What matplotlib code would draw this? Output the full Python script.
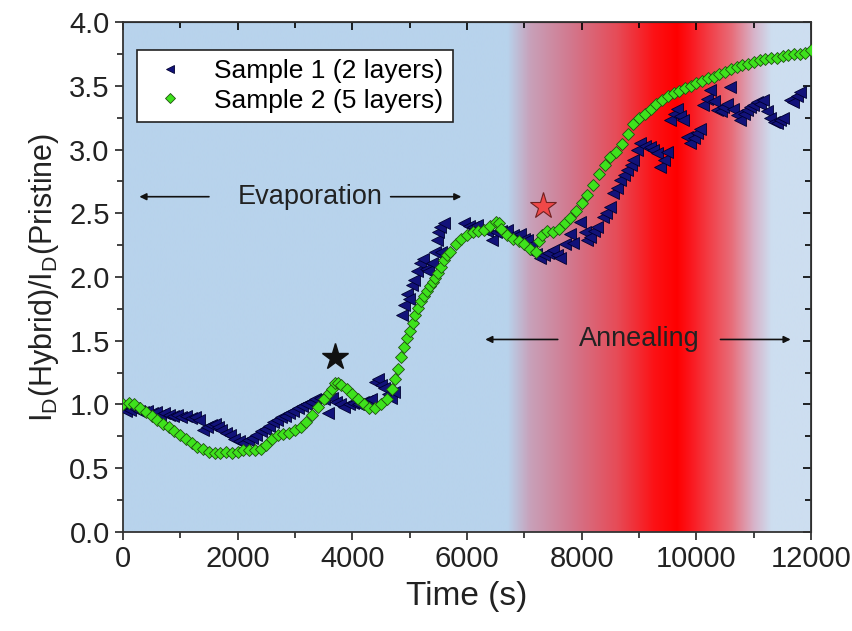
import numpy as np
import matplotlib
matplotlib.use("Agg")
from matplotlib import pyplot as plt
from matplotlib.ticker import MultipleLocator, FormatStrFormatter

plt.rcParams['font.family'] = ['Liberation Sans', 'DejaVu Sans']
plt.rcParams['mathtext.fontset'] = 'custom'
plt.rcParams['mathtext.rm'] = 'Liberation Sans'

# Sample 1 (2 layers)
t1 = [0, 60, 120, 200, 280, 350, 430, 500, 570, 650, 720, 800, 870, 950, 1020,
      1100, 1180, 1250, 1320, 1400, 1470, 1540, 1600, 1660, 1720, 1800, 1870,
      1940, 2020, 2100, 2180, 2260, 2330, 2400, 2470, 2540, 2610, 2680, 2750,
      2820, 2900, 2970, 3050, 3120, 3200, 3280, 3350, 3430, 3500, 3580, 3650,
      3720, 3790, 3860, 3940, 4020, 4100, 4180, 4250, 4330, 4400, 4450, 4500,
      4560, 4620, 4680, 4730, 4870, 4900, 4950, 4990, 5040, 5080, 5120, 5180,
      5230, 5280, 5320, 5390, 5450, 5480, 5500, 5530, 5540, 5600, 5950, 6030,
      6100, 6180, 6280, 6350, 6430, 6500, 6600, 6700, 6800, 6920, 7000, 7050,
      7120, 7200, 7270, 7340, 7420, 7500, 7560, 7620, 7700, 7800, 7850, 7970,
      8050, 8090, 8150, 8220, 8270, 8370, 8430, 8490, 8550, 8610, 8670, 8730,
      8790, 8850, 8900, 8960, 9020, 9100, 9190, 9250, 9310, 9370, 9430, 9490,
      9540, 9600, 9660, 9720, 9770, 9830, 9890, 9950, 10010, 10060, 10120,
      10180, 10240, 10300, 10360, 10420, 10470, 10530, 10590, 10640, 10700,
      10760, 10820, 10880, 10940, 10990, 11050, 11100, 11160, 11230, 11290,
      11350, 11410, 11460, 11510, 11630, 11690, 11750, 11800]
y1 = [0.97, 0.95, 0.96, 0.97, 0.95, 0.94, 0.95, 0.93, 0.94, 0.92, 0.93, 0.92,
      0.91, 0.92, 0.90, 0.91, 0.89, 0.90, 0.88, 0.80, 0.82, 0.84, 0.85, 0.82,
      0.80, 0.78, 0.76, 0.73, 0.71, 0.70, 0.72, 0.74, 0.76, 0.79, 0.81, 0.83,
      0.86, 0.88, 0.90, 0.91, 0.93, 0.95, 0.97, 0.99, 1.00, 1.02, 1.04, 1.05,
      1.04, 0.93, 1.05, 1.02, 1.00, 0.98, 1.00, 1.01, 1.00, 1.02, 1.03, 1.04,
      1.18, 1.20, 1.15, 1.13, 1.08, 1.05, 1.10, 1.70, 1.78, 1.87, 1.83, 1.94,
      1.98, 2.05, 2.11, 2.14, 2.06, 2.05, 2.11, 2.20, 2.29, 2.35, 2.39, 2.20,
      2.42, 2.42, 2.40, 2.39, 2.41, 2.38, 2.36, 2.29, 2.35, 2.36, 2.37, 2.33,
      2.34, 2.30, 2.29, 2.25, 2.18, 2.15, 2.17, 2.19, 2.21, 2.17, 2.15, 2.26,
      2.34, 2.27, 2.43, 2.35, 2.29, 2.31, 2.36, 2.39, 2.47, 2.50, 2.55, 2.66,
      2.70, 2.76, 2.80, 2.84, 2.88, 2.92, 3.00, 3.05, 3.03, 3.02, 3.00, 2.97,
      2.86, 2.92, 2.98, 3.23, 3.28, 3.32, 3.26, 3.23, 3.10, 3.05, 3.09, 3.13,
      3.16, 3.35, 3.40, 3.47, 3.38, 3.31, 3.30, 3.33, 3.36, 3.49, 3.32, 3.27,
      3.23, 3.28, 3.31, 3.33, 3.35, 3.37, 3.36, 3.39, 3.30, 3.25, 3.22, 3.21,
      3.23, 3.25, 3.39, 3.37, 3.42, 3.45]

# Sample 2 (5 layers)
t2 = [0, 100, 200, 300, 400, 500, 600, 700, 800, 900, 1000, 1100, 1200, 1300,
      1400, 1500, 1600, 1700, 1800, 1900, 2000, 2100, 2200, 2300, 2400, 2500,
      2600, 2700, 2800, 2900, 3000, 3100, 3200, 3300, 3400, 3500, 3600, 3650,
      3700, 3750, 3800, 3900, 4000, 4100, 4200, 4300, 4400, 4500, 4600, 4700,
      4750, 4800, 4850, 4900, 4950, 5000, 5050, 5100, 5150, 5200, 5250, 5300,
      5350, 5400, 5450, 5500, 5550, 5600, 5650, 5700, 5800, 5900, 6000, 6100,
      6200, 6300, 6400, 6500, 6550, 6600, 6700, 6800, 6900, 7000, 7100, 7200,
      7250, 7300, 7400, 7500, 7600, 7700, 7800, 7900, 8000, 8100, 8200, 8300,
      8400, 8500, 8600, 8700, 8800, 8900, 9000, 9100, 9200, 9300, 9400, 9500,
      9600, 9700, 9800, 9900, 10000, 10100, 10200, 10300, 10400, 10500, 10600,
      10700, 10800, 10900, 11000, 11100, 11200, 11300, 11400, 11500, 11600,
      11700, 11800, 11900, 12000]
y2 = [1.00, 1.01, 1.00, 0.97, 0.94, 0.91, 0.88, 0.85, 0.82, 0.79, 0.76, 0.73,
      0.70, 0.67, 0.65, 0.63, 0.62, 0.62, 0.63, 0.62, 0.63, 0.64, 0.64, 0.64,
      0.65, 0.68, 0.73, 0.76, 0.77, 0.78, 0.80, 0.82, 0.86, 0.92, 0.98, 1.04,
      1.09, 1.12, 1.17, 1.17, 1.15, 1.12, 1.08, 1.04, 1.00, 0.97, 0.97, 1.00,
      1.04, 1.12, 1.20, 1.28, 1.37, 1.45, 1.52, 1.58, 1.64, 1.70, 1.76, 1.81,
      1.85, 1.89, 1.93, 1.96, 1.99, 2.03, 2.08, 2.13, 2.17, 2.20, 2.26, 2.30,
      2.33, 2.35, 2.36, 2.37, 2.40, 2.43, 2.42, 2.38, 2.33, 2.30, 2.28, 2.26,
      2.22, 2.20, 2.28, 2.33, 2.36, 2.35, 2.38, 2.42, 2.46, 2.52, 2.58, 2.64,
      2.72, 2.81, 2.88, 2.94, 2.98, 3.04, 3.12, 3.20, 3.25, 3.28, 3.32, 3.36,
      3.39, 3.42, 3.44, 3.46, 3.48, 3.50, 3.52, 3.54, 3.56, 3.57, 3.59, 3.61,
      3.63, 3.65, 3.66, 3.67, 3.69, 3.70, 3.71, 3.72, 3.72, 3.73, 3.74, 3.75,
      3.75, 3.76, 3.78]

# background colour stops (time, r, g, b)
bg_t = [0, 6700, 7100, 7800, 8600, 9250, 9650, 9850, 10600, 11000, 11300, 12000]
bg_r = [184, 184, 200, 210, 230, 252, 255, 252, 232, 215, 205, 205]
bg_g = [211, 211, 160, 120, 76, 18, 0, 18, 108, 180, 222, 222]
bg_b = [236, 236, 185, 142, 88, 22, 0, 24, 120, 202, 240, 240]

fig = plt.figure(figsize=(8.53, 6.31), dpi=100)
ax = fig.add_axes([0.144, 0.157, 0.807, 0.808])

xs = np.linspace(0, 12000, 1200)
grad = np.stack([np.interp(xs, bg_t, bg_r), np.interp(xs, bg_t, bg_g),
                 np.interp(xs, bg_t, bg_b)], axis=-1)[None, :, :] / 255.0
ax.imshow(grad, extent=[0, 12000, 0, 4], aspect='auto', zorder=0,
          interpolation='bilinear')

ax.plot(t1, y1, ls='none', marker='<', ms=8.5, mfc='#12127a', mec='#000030',
        mew=0.6, label='Sample 1 (2 layers)', zorder=3)
ax.plot(t2, y2, ls='none', marker='D', ms=6.5, mfc='#3ee21c', mec='#1f5010',
        mew=0.6, label='Sample 2 (5 layers)', zorder=4)

ax.plot([3700], [1.37], marker='*', ms=20, color='#111111', zorder=5)
ax.plot([7330], [2.56], marker='*', ms=20, mfc='#f04848', mec='#702020',
        mew=0.8, zorder=5)

akw = dict(arrowstyle='-|>', color='#111111', lw=1.2, mutation_scale=10)
ax.annotate('', xy=(240, 2.63), xytext=(1550, 2.63), arrowprops=akw)
ax.annotate('', xy=(5950, 2.63), xytext=(4620, 2.63), arrowprops=akw)
ax.text(3260, 2.63, 'Evaporation', fontsize=19.5, ha='center', va='center',
        color='#222222')
ax.annotate('', xy=(6270, 1.51), xytext=(7630, 1.51), arrowprops=akw)
ax.annotate('', xy=(11690, 1.51), xytext=(10370, 1.51), arrowprops=akw)
ax.text(9000, 1.51, 'Annealing', fontsize=19.5, ha='center', va='center',
        color='#222222')

ax.set_xlim(0, 12000)
ax.set_ylim(0, 4.0)
ax.xaxis.set_major_locator(MultipleLocator(2000))
ax.xaxis.set_minor_locator(MultipleLocator(1000))
ax.yaxis.set_major_locator(MultipleLocator(0.5))
ax.yaxis.set_minor_locator(MultipleLocator(0.25))
ax.yaxis.set_major_formatter(FormatStrFormatter('%.1f'))
ax.tick_params(which='both', direction='out', labelsize=21, width=1.2,
               colors='#222222')
ax.tick_params(which='major', length=6)
ax.tick_params(which='minor', length=4)
for sp in ax.spines.values():
    sp.set_linewidth(1.3)
    sp.set_color('#333333')

# mirrored inward ticks on top and right
top = ax.secondary_xaxis('top')
top.xaxis.set_major_locator(MultipleLocator(2000))
top.xaxis.set_minor_locator(MultipleLocator(1000))
top.tick_params(which='both', direction='in', labeltop=False, width=1.2)
top.tick_params(which='major', length=6)
top.tick_params(which='minor', length=4)
right = ax.secondary_yaxis('right')
right.yaxis.set_major_locator(MultipleLocator(0.5))
right.yaxis.set_minor_locator(MultipleLocator(0.25))
right.tick_params(which='both', direction='in', labelright=False, width=1.2)
right.tick_params(which='major', length=6)
right.tick_params(which='minor', length=4)

ax.set_xlabel('Time (s)', fontsize=24, color='#222222', labelpad=6)
ax.set_ylabel(r'I$_\mathregular{D}$(Hybrid)/I$_\mathregular{D}$(Pristine)',
              fontsize=22, color='#222222', labelpad=6)

leg = ax.legend(loc='upper left', bbox_to_anchor=(0.02, 0.945), fontsize=19,
                frameon=True, fancybox=False, framealpha=1, edgecolor='#222222',
                handlelength=1.8, handletextpad=0.8, borderpad=0.35,
                labelspacing=0.2, markerscale=0.75, borderaxespad=0)
leg.get_frame().set_linewidth(1.2)

fig.savefig('out.png', dpi=100)
